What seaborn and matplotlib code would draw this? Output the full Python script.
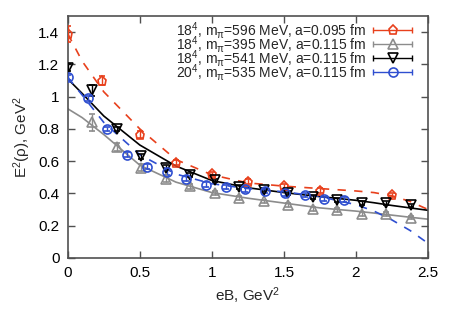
import matplotlib
matplotlib.use("Agg")
import matplotlib.pyplot as plt
import seaborn as sns
import numpy as np
from matplotlib.lines import Line2D
from matplotlib.legend_handler import HandlerLine2D, HandlerTuple

# lattice data, E^2(rho) vs eB
red_x = [0.0, 0.24, 0.5, 0.75, 1.0, 1.25, 1.5, 1.75, 2.25]
red_y = [1.39, 1.10, 0.765, 0.59, 0.52, 0.472, 0.443, 0.416, 0.39]
red_err = [0.05, 0.03, 0.02, 0.015, 0.015, 0.015, 0.015, 0.015, 0.015]

gray_x = [0.17, 0.34, 0.51, 0.68, 0.85, 1.02, 1.19, 1.36, 1.53, 1.70, 1.87, 2.04, 2.21, 2.38]
gray_y = [0.84, 0.685, 0.56, 0.49, 0.445, 0.40, 0.37, 0.35, 0.33, 0.305, 0.295, 0.27, 0.27, 0.25]
gray_err = [0.05, 0.025, 0.02, 0.02, 0.015, 0.012, 0.012, 0.012, 0.012, 0.012, 0.012, 0.012, 0.012, 0.012]

black_x = [0.0, 0.17, 0.34, 0.51, 0.68, 0.85, 1.02, 1.19, 1.36, 1.53, 1.70, 1.87, 2.04, 2.21, 2.38]
black_y = [1.18, 1.04, 0.80, 0.63, 0.56, 0.515, 0.48, 0.44, 0.42, 0.40, 0.377, 0.36, 0.342, 0.338, 0.325]
black_err = [0.02, 0.035, 0.015, 0.015, 0.015, 0.012, 0.012, 0.012, 0.012, 0.012, 0.012, 0.012, 0.012, 0.012, 0.012]

blue_x = [0.0, 0.137, 0.274, 0.411, 0.548, 0.685, 0.822, 0.959, 1.096, 1.233, 1.37, 1.507, 1.644, 1.781, 1.918]
blue_y = [1.12, 0.99, 0.80, 0.64, 0.565, 0.53, 0.49, 0.455, 0.44, 0.425, 0.415, 0.40, 0.39, 0.365, 0.36]
blue_err = [0.015] * 15

# fit curves
fit_x = [0.0, 0.1, 0.25, 0.5, 0.75, 1.0, 1.25, 1.5, 1.75, 2.0, 2.125, 2.25, 2.375, 2.5]
red_fit = [1.39, 1.22, 1.03, 0.80, 0.61, 0.515, 0.465, 0.445, 0.43, 0.415, 0.405, 0.385, 0.35, 0.30]
gray_fit = [0.925, 0.87, 0.765, 0.575, 0.47, 0.405, 0.37, 0.34, 0.31, 0.29, 0.278, 0.265, 0.252, 0.24]
black_fit = [1.11, 1.02, 0.88, 0.70, 0.57, 0.48, 0.435, 0.405, 0.38, 0.357, 0.342, 0.325, 0.31, 0.295]
blue_fit = [1.12, 1.01, 0.84, 0.64, 0.52, 0.46, 0.43, 0.41, 0.38, 0.33, 0.29, 0.235, 0.17, 0.09]

labels = ["18$^4$, m$_\\pi$=596 MeV, a=0.095 fm",
          "18$^4$, m$_\\pi$=395 MeV, a=0.115 fm",
          "18$^4$, m$_\\pi$=541 MeV, a=0.115 fm",
          "20$^4$, m$_\\pi$=535 MeV, a=0.115 fm"]

sns.set_style("ticks")
plt.rcParams["font.family"] = ["Liberation Sans", "DejaVu Sans"]
plt.rcParams["mathtext.fontset"] = "custom"
plt.rcParams["mathtext.rm"] = "Liberation Sans"
plt.rcParams["mathtext.it"] = "Liberation Sans"

fig = plt.figure(figsize=(4.52, 3.16), dpi=100)
ax = fig.add_axes([0.150, 0.184, 0.797, 0.765])

series = [
    (red_x, red_y, red_err, red_fit, "#e8401c", "p", (5, 5)),
    (gray_x, gray_y, gray_err, gray_fit, "#8c8c8c", "^", None),
    (black_x, black_y, black_err, black_fit, "black", "v", None),
    (blue_x, blue_y, blue_err, blue_fit, "#2f4fd0", "o", (5, 5)),
]

handles = []
hmap = {tuple: HandlerTuple(ndivide=1, pad=0)}
for (x, y, e, fit, c, m, dash), lab in zip(series, labels):
    sns.lineplot(x=fit_x, y=fit, ax=ax, color=c, lw=1.2, sort=False,
                 dashes=False, legend=False)
    if dash is not None:
        ax.lines[-1].set_dashes(dash)
    ax.errorbar(x, y, yerr=e, fmt=m, color=c, mfc="none", mec=c, mew=1.2,
                ms=6.5, elinewidth=1.0, capsize=2.5, capthick=1.0, zorder=3)
    cap = Line2D([], [], color=c, lw=1.0, marker="|", ms=5, mew=1.0)
    mk = Line2D([], [], color=c, lw=0, marker=m, ms=6.5, mfc="none", mew=1.2)
    hmap[cap] = HandlerLine2D(numpoints=2, marker_pad=0.0)
    hmap[mk] = HandlerLine2D(numpoints=1)
    handles.append((cap, mk))

ax.set_xlim(0, 2.5)
ax.set_ylim(0, 1.5)
ax.set_xticks([0, 0.5, 1, 1.5, 2, 2.5])
ax.set_xticklabels(["0", "0.5", "1", "1.5", "2", "2.5"])
ax.set_yticks([0, 0.2, 0.4, 0.6, 0.8, 1, 1.2, 1.4])
ax.set_yticklabels(["0", "0.2", "0.4", "0.6", "0.8", "1", "1.2", "1.4"])
ax.tick_params(direction="in", top=True, right=True, length=5, width=1,
               labelsize=11, colors="#505050", labelcolor="black", pad=6)
for s in ax.spines.values():
    s.set_color("#505050")
    s.set_linewidth(1.2)

ax.set_xlabel("eB, GeV$^2$", fontsize=11, labelpad=4)
ax.set_ylabel("E$^2$(ρ), GeV$^2$", fontsize=11, labelpad=4)

ax.legend(handles, labels, handler_map=hmap, loc="upper right",
          bbox_to_anchor=(0.965, 1.0), frameon=False, markerfirst=False,
          fontsize=10, labelspacing=-0.5, handlelength=2.8,
          handletextpad=0.5, borderaxespad=0.15, borderpad=0.1)

fig.savefig("out.png", dpi=100)
